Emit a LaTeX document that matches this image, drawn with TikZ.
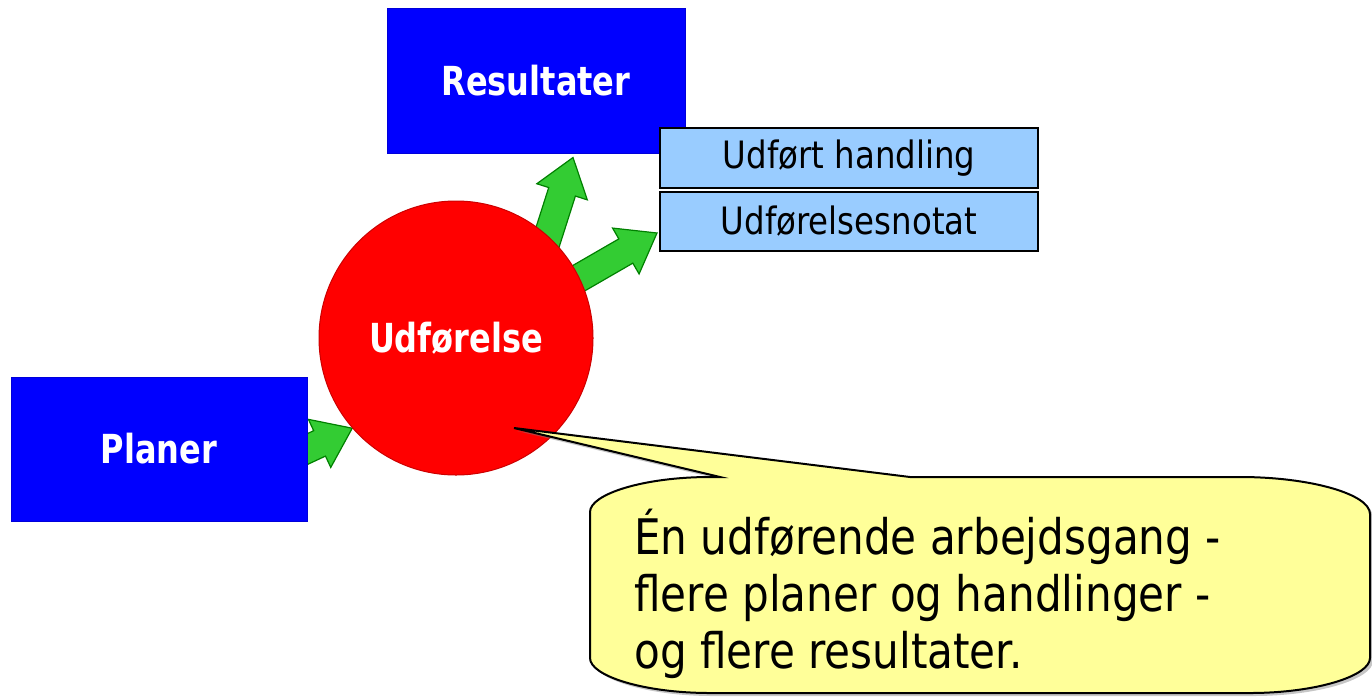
\documentclass[tikz,border=0pt]{standalone}
\usepackage{fontspec}
\setmainfont{DejaVu Sans}[FakeStretch=0.86]
\newfontfamily\labelfont{DejaVu Sans}[FakeStretch=0.80]
\usepackage{tikz}
\usetikzlibrary{calc,shadows,backgrounds}

\definecolor{planblue}{RGB}{0,0,255}
\definecolor{noteblue}{RGB}{153,204,255}
\definecolor{arrowgreen}{RGB}{51,204,51}
\definecolor{arrowedge}{RGB}{0,128,0}
\definecolor{calloutyellow}{RGB}{255,255,153}
\definecolor{circlered}{RGB}{255,0,0}

\newcommand{\greenarrow}[2]{%
  \coordinate (ga-t) at ($(#1)!-20pt!(#2)$);
  \coordinate (ga-n) at ($(#2)!36pt!(#1)$);
  \draw[blockarrow] ($(ga-t)!14pt!90:(#2)$) -- ($(ga-n)!14pt!90:(#2)$)
    -- ($(ga-n)!26.5pt!90:(#2)$) -- (#2) -- ($(ga-n)!26.5pt!-90:(#2)$)
    -- ($(ga-n)!14pt!-90:(#2)$) -- ($(ga-t)!14pt!-90:(#2)$) -- cycle;
}

\begin{document}
\begin{tikzpicture}[x=1pt, y=-1pt,
    bluebox/.style={rectangle, fill=planblue, draw=planblue!85!black, line width=1pt,
      text=white, font=\labelfont\bfseries\fontsize{40}{48}\selectfont},
    notebox/.style={rectangle, fill=noteblue, draw=black, line width=2pt,
      minimum width=378pt, font=\fontsize{37.7}{45}\selectfont},
    blockarrow/.style={fill=arrowgreen, draw=arrowedge, line width=1.2pt, line join=miter},
    callout/.style={fill=calloutyellow, draw=black, line width=2pt,
      drop shadow={shadow xshift=3pt, shadow yshift=-3pt, opacity=0.45}},
    callouttext/.style={inner sep=0pt, align=left, font=\fontsize{49}{57}\selectfont}]
  \useasboundingbox (0,0) rectangle (1372,697);

  \node[bluebox, minimum width=298pt, minimum height=145pt] (res) at (536,80.5) {Resultater};
  \node[bluebox, minimum width=296pt, minimum height=144pt] (pl) at (159,449) {Planer};
  \node[circle, minimum size=274pt, fill=circlered, draw=circlered!80!black, line width=1pt,
        text=white, font=\labelfont\bfseries\fontsize{40}{48}\selectfont] (udf) at (456,338) {Udførelse};
  \node[notebox, minimum height=60pt] (hand) at (849,158) {Udført handling};
  \node[notebox, minimum height=59pt] (notat) at (849,221.5) {Udførelsesnotat};

  \coordinate (res-in) at ($(res.south)+(37,4)$);
  \coordinate (notat-in) at ($(notat.west)+(-2,11.5)$);

  \begin{scope}[on background layer]
    \greenarrow{pl.east}{udf.221}
    \greenarrow{udf.48}{res-in}
    \greenarrow{udf.26}{notat-in}
  \end{scope}

  \coordinate (tip) at ($(udf)+(58,90)$);
  \draw[callout] (720,477) -- (tip) -- (910,477) -- (1240,477)
    .. controls (1310,477) and (1370,494) .. (1370,514) -- (1370,658)
    .. controls (1370,676) and (1316,693) .. (1250,693) -- (710,693)
    .. controls (644,693) and (590,676) .. (590,658) -- (590,512)
    .. controls (590,494) and (644,477) .. (710,477) -- cycle;
  \node[callouttext, anchor=base west] (txt) at (634,668)
    {Én udførende arbejdsgang -\\flere planer og handlinger -\\og flere resultater.};
\end{tikzpicture}
\end{document}
